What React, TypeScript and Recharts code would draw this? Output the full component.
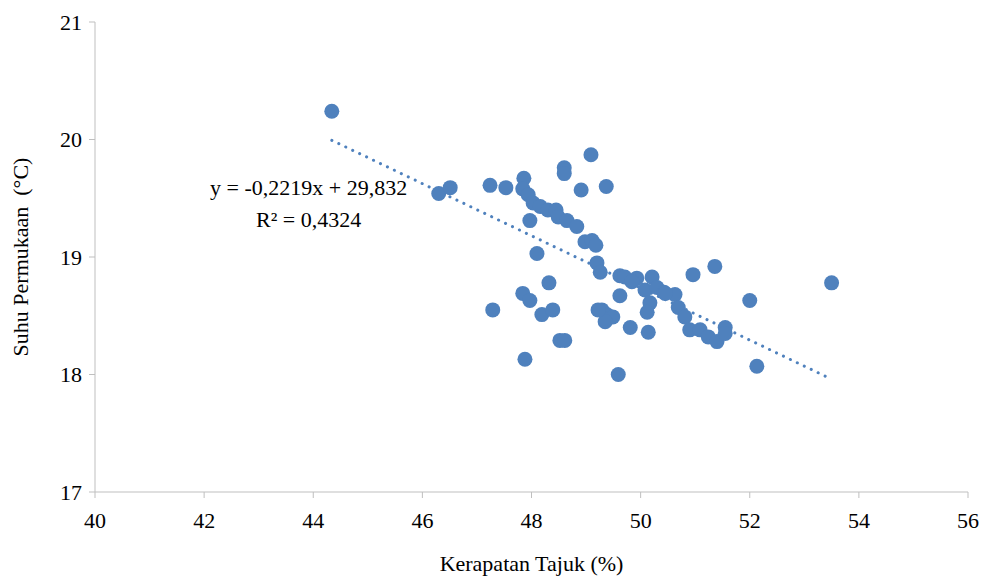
import React from "react"
import { ScatterChart, Scatter, XAxis, YAxis } from "recharts"

// Kerapatan Tajuk (%) vs Suhu Permukaan (°C)
const kerapatan = [
  44.34, 46.3, 46.51, 47.24, 47.53, 47.86, 47.84, 47.94, 48.03, 48.16,
  48.3, 48.45, 48.49, 48.65, 48.83, 48.6, 48.6, 49.09, 48.91, 49.37,
  47.97, 48.1, 48.98, 49.11, 49.18, 49.2, 49.26, 49.62, 49.71, 49.93,
  50.21, 50.08, 50.3, 50.43, 50.63, 50.69, 50.81, 50.9, 51.09, 51.24,
  51.4, 51.55, 51.55, 50.96, 51.36, 52.0, 53.5, 52.13, 49.62, 50.17,
  50.12, 49.81, 50.14, 49.29, 49.38, 49.49, 49.35, 49.22, 49.59, 47.29,
  47.84, 47.97, 48.32, 48.19, 48.39, 48.52, 48.61, 47.88, 49.84, 50.45,
]
const suhu = [
  20.24, 19.54, 19.59, 19.61, 19.59, 19.67, 19.58, 19.53, 19.46, 19.43,
  19.4, 19.4, 19.34, 19.31, 19.26, 19.76, 19.71, 19.87, 19.57, 19.6,
  19.31, 19.03, 19.13, 19.14, 19.1, 18.95, 18.87, 18.84, 18.83, 18.82,
  18.83, 18.72, 18.74, 18.7, 18.68, 18.57, 18.49, 18.38, 18.38, 18.32,
  18.28, 18.4, 18.35, 18.85, 18.92, 18.63, 18.78, 18.07, 18.67, 18.61,
  18.53, 18.4, 18.36, 18.55, 18.51, 18.49, 18.45, 18.55, 18.0, 18.55,
  18.69, 18.63, 18.78, 18.51, 18.55, 18.29, 18.29, 18.13, 18.79, 18.69,
]

const xTicks = [40, 42, 44, 46, 48, 50, 52, 54, 56]
const yTicks = [17, 18, 19, 20, 21]

const slope = -0.2219
const intercept = 29.832

const points = kerapatan.map((x, i) => ({ x, y: suhu[i] }))

const xMin = Math.min(...kerapatan)
const xMax = Math.max(...kerapatan)
const trend = [
  { x: xMin, y: slope * xMin + intercept },
  { x: xMax, y: slope * xMax + intercept },
]

const FONT = "Liberation Serif, DejaVu Serif, serif"
const BLUE = "#4F81BD"
const AXIS = "#BFBFBF"

const Dot = (props: any) => {
  const { cx, cy } = props
  if (cx == null || cy == null) return null
  return <circle cx={cx} cy={cy} r={7.5} fill={BLUE} />
}

export default function App() {
  return (
    <div style={{ position: "absolute", left: 0, top: 0, width: 993, height: 577, background: "#fff", fontFamily: FONT }}>
      <ScatterChart width={993} height={577} margin={{ top: 22, right: 25, left: 0, bottom: 0 }} style={{ fontFamily: FONT }}>
        <XAxis
          type="number"
          dataKey="x"
          domain={[40, 56]}
          ticks={xTicks}
          height={85}
          stroke={AXIS}
          tickSize={6}
          tickMargin={14}
          tick={{ fill: "#000", fontSize: 22, fontFamily: FONT }}
          label={{
            value: "Kerapatan Tajuk (%)",
            position: "insideBottom",
            offset: 6,
            fill: "#000",
            fontSize: 22,
            fontFamily: FONT,
          }}
        />
        <YAxis
          type="number"
          dataKey="y"
          domain={[17, 21]}
          ticks={yTicks}
          width={95}
          stroke={AXIS}
          tickSize={6}
          tickMargin={7}
          tick={{ fill: "#000", fontSize: 22, fontFamily: FONT }}
          label={{
            value: "Suhu Permukaan\u00A0 (°C)",
            angle: -90,
            position: "insideLeft",
            offset: 20,
            fill: "#000",
            fontSize: 22,
            fontFamily: FONT,
            style: { textAnchor: "middle" },
          }}
        />
        <Scatter
          data={trend}
          line={{ stroke: BLUE, strokeWidth: 3, strokeDasharray: "0.1 7.6", strokeLinecap: "round" }}
          shape={() => null}
          isAnimationActive={false}
        />
        <Scatter data={points} shape={<Dot />} isAnimationActive={false} />
      </ScatterChart>
      <div
        style={{
          position: "absolute",
          left: 210,
          top: 172,
          fontFamily: FONT,
          fontSize: 22,
          lineHeight: "32px",
          color: "#000",
          textAlign: "center",
          whiteSpace: "nowrap",
        }}
      >
        <div>y = -0,2219x + 29,832</div>
        <div>R² = 0,4324</div>
      </div>
    </div>
  )
}
